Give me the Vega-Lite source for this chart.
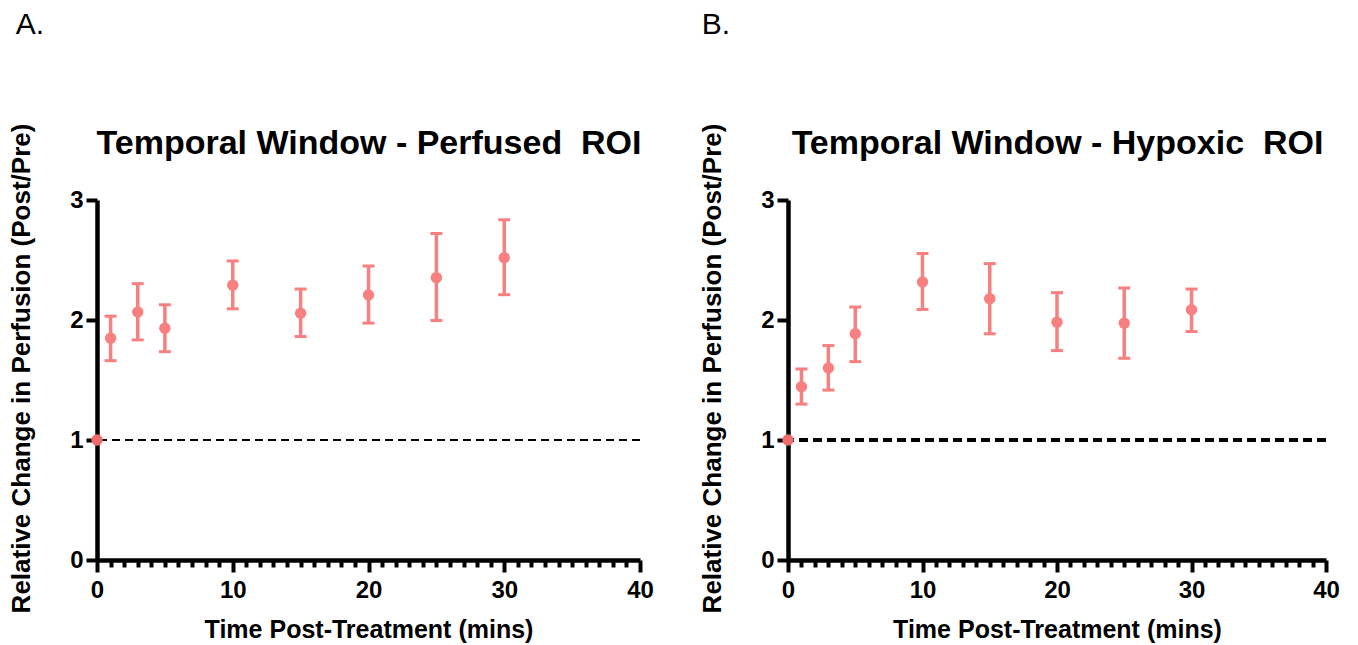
{
  "$schema": "https://vega.github.io/schema/vega-lite/v6.json",
  "background": "white",
  "padding": {"left": 8, "top": 10, "right": 5, "bottom": 5},
  "config": {
    "view": {"stroke": null},
    "font": "Liberation Sans",
    "concat": {"spacing": 45},
    "axis": {"domainColor": "black", "domainWidth": 4.5, "tickColor": "black", "tickWidth": 4, "labelColor": "black", "titleColor": "black", "labelFont": "Liberation Sans", "titleFont": "Liberation Sans", "labelFontWeight": "bold", "titleFontWeight": "bold", "grid": false}
  },
  "datasets": {
    "a": [
      {"t": 0, "mean": 1.0, "lo": null, "hi": null},
      {"t": 1, "mean": 1.848, "lo": 1.661, "hi": 2.032},
      {"t": 3, "mean": 2.066, "lo": 1.834, "hi": 2.303},
      {"t": 5, "mean": 1.932, "lo": 1.736, "hi": 2.127},
      {"t": 10, "mean": 2.289, "lo": 2.093, "hi": 2.492},
      {"t": 15, "mean": 2.057, "lo": 1.862, "hi": 2.258},
      {"t": 20, "mean": 2.208, "lo": 1.974, "hi": 2.45},
      {"t": 25, "mean": 2.353, "lo": 1.996, "hi": 2.721},
      {"t": 30, "mean": 2.52, "lo": 2.211, "hi": 2.835}
    ],
    "b": [
      {"t": 0, "mean": 1.0, "lo": null, "hi": null},
      {"t": 1, "mean": 1.444, "lo": 1.299, "hi": 1.592},
      {"t": 3, "mean": 1.6, "lo": 1.416, "hi": 1.787},
      {"t": 5, "mean": 1.885, "lo": 1.653, "hi": 2.108},
      {"t": 10, "mean": 2.317, "lo": 2.088, "hi": 2.554},
      {"t": 15, "mean": 2.178, "lo": 1.885, "hi": 2.47},
      {"t": 20, "mean": 1.982, "lo": 1.745, "hi": 2.228},
      {"t": 25, "mean": 1.974, "lo": 1.681, "hi": 2.267},
      {"t": 30, "mean": 2.086, "lo": 1.904, "hi": 2.258}
    ]
  },
  "hconcat": [
    {
      "width": 543,
      "height": 360,
      "title": {"text": "A.", "anchor": "start", "frame": "bounds", "fontSize": 30, "fontWeight": "normal", "font": "Liberation Sans", "offset": 83, "dx": 7, "color": "black"},
      "data": {"name": "a"},
      "resolve": {"axis": {"x": "independent"}},
      "layer": [
        {
          "mark": {"type": "rule", "strokeDash": [8, 5], "strokeWidth": 2, "color": "black"},
          "encoding": {"y": {"datum": 1, "type": "quantitative", "scale": {"domain": [0, 3]}, "axis": {"title": "Relative Change in Perfusion (Post/Pre)", "titleFontSize": 26, "titleY": 168, "labelFontSize": 24, "values": [0, 1, 2, 3], "format": "d", "tickSize": 11, "labelPadding": 3, "titlePadding": 35}}}
        },
        {
          "transform": [{"filter": "datum.lo != null"}],
          "mark": {"type": "rule", "strokeWidth": 3.5, "color": "#F88080"},
          "encoding": {
            "x": {"field": "t", "type": "quantitative", "scale": {"domain": [0, 40]}, "axis": {"orient": "top", "title": "Temporal Window - Perfused\u00a0 ROI", "titleFontSize": 34, "titlePadding": 40, "domain": false, "ticks": false, "labels": false}},
            "y": {"field": "lo", "type": "quantitative", "axis": {"title": "Relative Change in Perfusion (Post/Pre)", "titleFontSize": 26, "titleY": 168, "labelFontSize": 24, "values": [0, 1, 2, 3], "format": "d", "tickSize": 11, "labelPadding": 3, "titlePadding": 35}},
            "y2": {"field": "hi"}
          }
        },
        {
          "transform": [{"filter": "datum.lo != null"}],
          "mark": {"type": "tick", "orient": "horizontal", "size": 12, "thickness": 3, "color": "#F88080", "opacity": 1},
          "encoding": {
            "x": {"field": "t", "type": "quantitative", "axis": null},
            "y": {"field": "lo", "type": "quantitative", "axis": {"title": "Relative Change in Perfusion (Post/Pre)", "titleFontSize": 26, "titleY": 168, "labelFontSize": 24, "values": [0, 1, 2, 3], "format": "d", "tickSize": 11, "labelPadding": 3, "titlePadding": 35}}
          }
        },
        {
          "transform": [{"filter": "datum.lo != null"}],
          "mark": {"type": "tick", "orient": "horizontal", "size": 12, "thickness": 3, "color": "#F88080", "opacity": 1},
          "encoding": {
            "x": {"field": "t", "type": "quantitative", "axis": null},
            "y": {"field": "hi", "type": "quantitative", "axis": {"title": "Relative Change in Perfusion (Post/Pre)", "titleFontSize": 26, "titleY": 168, "labelFontSize": 24, "values": [0, 1, 2, 3], "format": "d", "tickSize": 11, "labelPadding": 3, "titlePadding": 35}}
          }
        },
        {
          "mark": {"type": "point", "filled": true, "size": 130, "opacity": 1},
          "encoding": {
            "x": {"field": "t", "type": "quantitative", "axis": {"title": "Time Post-Treatment (mins)", "titleFontSize": 25, "labelFontSize": 24, "labelFlush": false, "values": [0,1,2,3,4,5,6,7,8,9,10,11,12,13,14,15,16,17,18,19,20,21,22,23,24,25,26,27,28,29,30,31,32,33,34,35,36,37,38,39,40], "labelExpr": "datum.value % 10 === 0 ? datum.label : ''", "labelOverlap": false, "tickSize": {"condition": {"test": "datum.value % 10 === 0", "value": 12}, "value": 7}, "labelPadding": 6, "titlePadding": 15}},
            "y": {"field": "mean", "type": "quantitative", "axis": {"title": "Relative Change in Perfusion (Post/Pre)", "titleFontSize": 26, "titleY": 168, "labelFontSize": 24, "values": [0, 1, 2, 3], "format": "d", "tickSize": 11, "labelPadding": 3, "titlePadding": 35}},
            "color": {"condition": {"test": "datum.t === 0", "value": "#F06C6C"}, "value": "#F88080"}
          }
        }
      ]
    },
    {
      "width": 538,
      "height": 360,
      "title": {"text": "B.", "anchor": "start", "frame": "bounds", "fontSize": 30, "fontWeight": "normal", "font": "Liberation Sans", "offset": 83, "dx": 2, "color": "black"},
      "data": {"name": "b"},
      "resolve": {"axis": {"x": "independent"}},
      "layer": [
        {
          "mark": {"type": "rule", "strokeDash": [9, 5], "strokeWidth": 3, "color": "black"},
          "encoding": {"y": {"datum": 1, "type": "quantitative", "scale": {"domain": [0, 3]}, "axis": {"title": "Relative Change in Perfusion (Post/Pre)", "titleFontSize": 26, "titleY": 168, "labelFontSize": 24, "values": [0, 1, 2, 3], "format": "d", "tickSize": 11, "labelPadding": 3, "titlePadding": 35}}}
        },
        {
          "transform": [{"filter": "datum.lo != null"}],
          "mark": {"type": "rule", "strokeWidth": 3.5, "color": "#F88080"},
          "encoding": {
            "x": {"field": "t", "type": "quantitative", "scale": {"domain": [0, 40]}, "axis": {"orient": "top", "title": "Temporal Window - Hypoxic\u00a0 ROI", "titleFontSize": 34, "titlePadding": 40, "domain": false, "ticks": false, "labels": false}},
            "y": {"field": "lo", "type": "quantitative", "axis": {"title": "Relative Change in Perfusion (Post/Pre)", "titleFontSize": 26, "titleY": 168, "labelFontSize": 24, "values": [0, 1, 2, 3], "format": "d", "tickSize": 11, "labelPadding": 3, "titlePadding": 35}},
            "y2": {"field": "hi"}
          }
        },
        {
          "transform": [{"filter": "datum.lo != null"}],
          "mark": {"type": "tick", "orient": "horizontal", "size": 12, "thickness": 3, "color": "#F88080", "opacity": 1},
          "encoding": {
            "x": {"field": "t", "type": "quantitative", "axis": null},
            "y": {"field": "lo", "type": "quantitative", "axis": {"title": "Relative Change in Perfusion (Post/Pre)", "titleFontSize": 26, "titleY": 168, "labelFontSize": 24, "values": [0, 1, 2, 3], "format": "d", "tickSize": 11, "labelPadding": 3, "titlePadding": 35}}
          }
        },
        {
          "transform": [{"filter": "datum.lo != null"}],
          "mark": {"type": "tick", "orient": "horizontal", "size": 12, "thickness": 3, "color": "#F88080", "opacity": 1},
          "encoding": {
            "x": {"field": "t", "type": "quantitative", "axis": null},
            "y": {"field": "hi", "type": "quantitative", "axis": {"title": "Relative Change in Perfusion (Post/Pre)", "titleFontSize": 26, "titleY": 168, "labelFontSize": 24, "values": [0, 1, 2, 3], "format": "d", "tickSize": 11, "labelPadding": 3, "titlePadding": 35}}
          }
        },
        {
          "mark": {"type": "point", "filled": true, "size": 130, "opacity": 1},
          "encoding": {
            "x": {"field": "t", "type": "quantitative", "axis": {"title": "Time Post-Treatment (mins)", "titleFontSize": 25, "labelFontSize": 24, "labelFlush": false, "values": [0,1,2,3,4,5,6,7,8,9,10,11,12,13,14,15,16,17,18,19,20,21,22,23,24,25,26,27,28,29,30,31,32,33,34,35,36,37,38,39,40], "labelExpr": "datum.value % 10 === 0 ? datum.label : ''", "labelOverlap": false, "tickSize": {"condition": {"test": "datum.value % 10 === 0", "value": 12}, "value": 7}, "labelPadding": 6, "titlePadding": 15}},
            "y": {"field": "mean", "type": "quantitative", "axis": {"title": "Relative Change in Perfusion (Post/Pre)", "titleFontSize": 26, "titleY": 168, "labelFontSize": 24, "values": [0, 1, 2, 3], "format": "d", "tickSize": 11, "labelPadding": 3, "titlePadding": 35}},
            "color": {"condition": {"test": "datum.t === 0", "value": "#F06C6C"}, "value": "#F88080"}
          }
        }
      ]
    }
  ]
}
